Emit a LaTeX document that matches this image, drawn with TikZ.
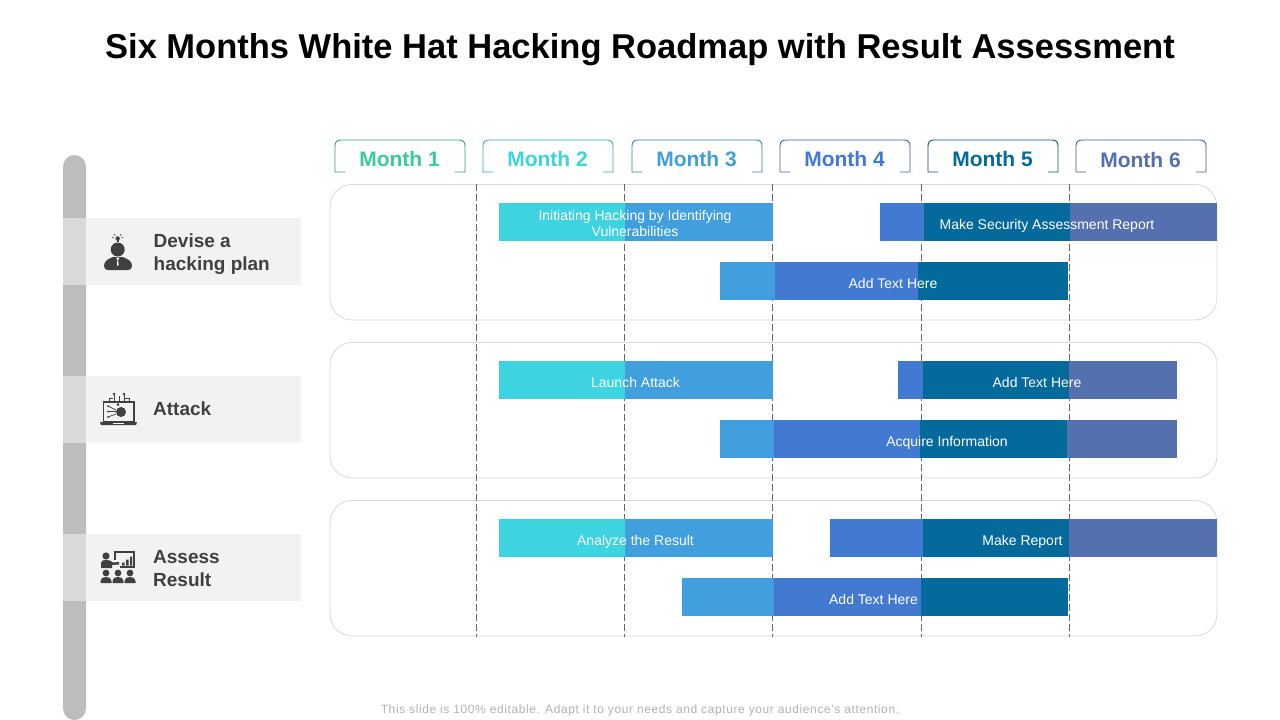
\documentclass[tikz,border=0pt]{standalone}
\usepackage{fontspec}
\setmainfont{Liberation Sans}
\definecolor{cteal}{HTML}{3ED3E0}
\definecolor{cblue}{HTML}{419FDD}
\definecolor{croyal}{HTML}{4279D1}
\definecolor{cdark}{HTML}{046A9C}
\definecolor{cslate}{HTML}{5470AE}
\definecolor{cgreen}{HTML}{3CC8A0}
\definecolor{ink}{HTML}{404040}
\tikzset{
  panel/.style={draw=black!15,line width=0.8pt,rounded corners=22pt,fill=white},
  guide/.style={draw=black!60,line width=0.8pt,dash pattern=on 7pt off 3pt},
  barlabel/.style={text=white,font=\fontsize{14}{16}\selectfont,align=center,inner sep=0pt},
  monthlabel/.style={font=\bfseries\fontsize{21}{24}\selectfont,inner sep=0pt},
  sidelabel/.style={text=ink,font=\bfseries\fontsize{19}{23}\selectfont,align=left,anchor=west,inner sep=0pt},
  tab/.style={line width=0.9pt},
  iconfill/.style={fill=ink,draw=none},
  iconline/.style={draw=ink,line width=0.8pt},
}
\newcommand{\monthtab}[4]{%
  \draw[tab,draw=#2!80!black] (#1+10,172) -- (#1,172) -- (#1,146) .. controls (#1,142) and (#1+2,140) .. (#1+6,140) -- (#1+124,140) .. controls (#1+128,140) and (#1+130,142) .. (#1+130,146) -- (#1+130,172) -- (#1+120,172);
  \node[monthlabel,text=#2] (m#3) at (#1+64.5,#4) {Month #3};
}
\begin{document}
\begin{tikzpicture}[x=1pt,y=-1pt]
\useasboundingbox (0,0) rectangle (1280,720);
\fill[white] (0,0) rectangle (1280,720);
\node[inner sep=0pt,font=\bfseries\fontsize{34.5}{40}\selectfont,text=black] (title) at (640,49.5) {Six Months White Hat Hacking Roadmap with Result Assessment};
% months
\monthtab{335}{cgreen}{1}{159}
\monthtab{483}{cteal}{2}{159}
\monthtab{632}{cblue}{3}{159}
\monthtab{780}{croyal}{4}{159}
\monthtab{928}{cdark}{5}{158.5}
\monthtab{1076}{cslate}{6}{160}
% panels
\draw[panel] (330,184.5) rectangle (1217,320);
\draw[panel] (330,342.5) rectangle (1217,478);
\draw[panel] (330,500.5) rectangle (1217,636);
% guides
\foreach \gx/\gn in {476.5/a,624.5/b,772.5/c,921.5/d,1069.5/e}{
  \coordinate (g\gn t) at (\gx,184);
  \coordinate (g\gn b) at (\gx,637);
  \draw[guide] (g\gn t) -- (g\gn b);
}
% row 1
\fill[cteal] (499,203) rectangle (625,241);
\fill[cblue] (625,203) rectangle (773,241);
\fill[croyal] (880,203) rectangle (924,241);
\fill[cdark] (924,203) rectangle (1070,241);
\fill[cslate] (1070,203) rectangle (1217,241);
\fill[cblue] (720,262) rectangle (775,300);
\fill[croyal] (775,262) rectangle (918,300);
\fill[cdark] (918,262) rectangle (1068,300);
% row 2
\fill[cteal] (499,361) rectangle (625,399);
\fill[cblue] (625,361) rectangle (773,399);
\fill[croyal] (898,361) rectangle (923,399);
\fill[cdark] (923,361) rectangle (1069,399);
\fill[cslate] (1069,361) rectangle (1177,399);
\fill[cblue] (720,420) rectangle (774,458);
\fill[croyal] (774,420) rectangle (920,458);
\fill[cdark] (920,420) rectangle (1067,458);
\fill[cslate] (1067,420) rectangle (1177,458);
% row 3
\fill[cteal] (499,519) rectangle (625,557);
\fill[cblue] (625,519) rectangle (773,557);
\fill[croyal] (830,519) rectangle (923,557);
\fill[cdark] (923,519) rectangle (1069,557);
\fill[cslate] (1069,519) rectangle (1217,557);
\fill[cblue] (682,578) rectangle (774,616);
\fill[croyal] (774,578) rectangle (921,616);
\fill[cdark] (921,578) rectangle (1068,616);
% bar labels
\node[barlabel] (b1) at (635,223.5) {Initiating Hacking by Identifying\\[0.5pt]Vulnerabilities};
\node[barlabel] (b2) at (1047,225.5) {Make Security Assessment Report};
\node[barlabel] (b3) at (893,283) {Add Text Here};
\node[barlabel] (b4) at (635.5,382) {Launch Attack};
\node[barlabel] (b5) at (1037,382) {Add Text Here};
\node[barlabel] (b6) at (947,442.5) {Acquire Information};
\node[barlabel] (b7) at (635.5,541.5) {Analyze the Result};
\node[barlabel] (b8) at (1022.5,541.5) {Make Report};
\node[barlabel] (b9) at (873.5,599) {Add Text Here};
% spine
\fill[black!26] (63,720) [rounded corners=11.5pt] -- (63,155) -- (86,155) -- (86,720) -- cycle;
\foreach \ry in {218,376,534}{
  \fill[black!5] (86,\ry) rectangle (301,\ry+67);
  \fill[black!15] (63,\ry) rectangle (86,\ry+67);
}
\node[sidelabel] (s1) at (153.5,254) {Devise a\\hacking plan};
\node[sidelabel] (s2) at (153,409) {Attack};
\node[sidelabel] (s3) at (153,569) {Assess\\Result};
% icon: person with bulb
\fill[iconfill] (117.7,249.5) circle (7);
\fill[iconfill] (104,266) .. controls (104,261) and (108,259) .. (113,257) -- (122.5,257) .. controls (128,259) and (132,261) .. (132,266) .. controls (132,269) and (130,270) .. (128,270) -- (108,270) .. controls (106,270) and (104,269) .. (104,266) -- cycle;
\fill[white] (116,257.5) -- (119.5,257.5) -- (118.2,260) -- (118.6,265) -- (117.8,266) -- (117,265) -- (117.4,260) -- cycle;
\fill[iconfill] (117.7,238.5) circle (2.2);
\fill[iconfill] (116.5,240) rectangle (119,241.5);
\foreach \ang in {10,50,130,170}{\draw[iconline,line width=0.6pt] (117.7,238.5) ++(-\ang:3.6) -- ++(-\ang:2.2);}
% icon: laptop
\draw[iconline,line width=1.4pt] (103.5,402) rectangle (134,422);
\fill[iconfill] (100,422) -- (137,422) -- (136,425) -- (101,425) -- cycle;
\fill[iconfill] (121,412) circle (5);
\fill[iconfill] (118,404.5) circle (1.5);
\draw[iconline,line width=0.7pt] (108,406) -- (116,410) (108,411.5) -- (116,411.5) (108,417) -- (116,414);
\fill[iconfill] (108,406) circle (1) (108,411.5) circle (1) (108,417) circle (1);
\draw[iconline,line width=0.7pt] (114,402) -- (114,394) (124,402) -- (124,394) (109,402) -- (109,398) -- (113,398) (129,402) -- (129,398) -- (125,398) (119,402) -- (119,396);
\fill[iconfill] (114,394) circle (1.3) (124,394) circle (1.3);
\fill[white] (113,422.5) rectangle (124,423.5);
% icon: presenter
\fill[iconfill] (106,556) circle (3.6);
\fill[iconfill] (101,568) -- (101,563) .. controls (101,560.5) and (103,560) .. (106,560) -- (110,560.5) -- (113,562.5) -- (119,562) -- (119,564.5) -- (112,565) -- (112,568) -- cycle;
\draw[iconline,line width=1.3pt] (115,560) -- (115,552) -- (134,552) -- (134,567) -- (120,567);
\fill[iconfill] (122,562.5) rectangle (124.5,565.5) (126,559.5) rectangle (128.5,565.5) (130,556.5) rectangle (132,565.5);
\foreach \px in {106,118,130}{
  \fill[iconfill] (\px,573) circle (3.4);
  \fill[iconfill] (\px-5.5,583) -- (\px-5.5,581) .. controls (\px-5.5,578) and (\px-3,577) .. (\px,577) .. controls (\px+3,577) and (\px+5.5,578) .. (\px+5.5,581) -- (\px+5.5,583) -- cycle;
}
% footer
\node[inner sep=0pt,text=black!30,font=\fontsize{12}{14}\selectfont\addfontfeature{LetterSpace=5}] (foot) at (640,710.5) {This slide is 100\% editable. Adapt it to your needs and capture your audience's attention.};
\end{tikzpicture}
\end{document}
